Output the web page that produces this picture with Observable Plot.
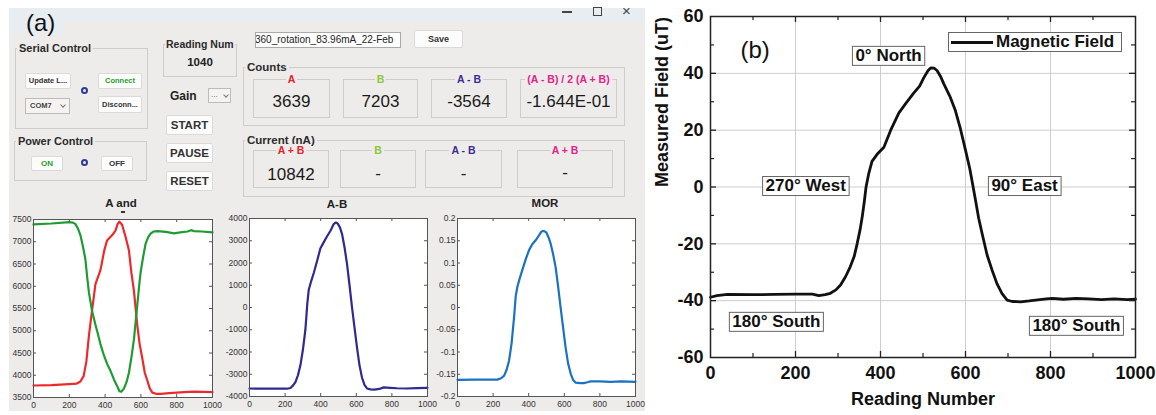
<!DOCTYPE html>
<html><head><meta charset="utf-8">
<script src="https://cdn.jsdelivr.net/npm/d3@7"></script>
<script src="https://cdn.jsdelivr.net/npm/@observablehq/plot@0.6"></script>
<style>
html,body{margin:0;padding:0;background:#fff;}
#root{position:relative;width:1156px;height:415px;overflow:hidden;font-family:"Liberation Sans",Arial,sans-serif;color:#222;}
.a{position:absolute;box-sizing:border-box;}
.grp{border:1px solid #cfccca;}
.gt{font-weight:bold;font-size:11px;line-height:12px;color:#2b2b2b;background:#eeecea;padding:0 2px;white-space:nowrap;}
.btn{background:#fcfcfc;border:1px solid #dcdad8;border-radius:2px;font-weight:bold;color:#333;text-align:center;white-space:nowrap;overflow:hidden;}
.vb{border:1px solid #cfccca;}
.vl{position:absolute;left:0;right:0;top:-7px;text-align:center;font-weight:bold;font-size:10.5px;line-height:12px;white-space:nowrap;}
.vl span{background:#eeecea;padding:0 2px;}
.vv{position:absolute;left:0;right:0;text-align:center;font-size:17px;color:#1a1a1a;line-height:20px;}
.radio{width:7px;height:7px;border:2px solid #2b3a9a;border-radius:50%;}
.chev{position:absolute;width:3px;height:3px;border-right:1px solid #777;border-bottom:1px solid #777;transform:rotate(45deg);}
.ptitle{font-weight:bold;font-size:11.5px;line-height:13px;text-align:center;width:80px;color:#222;}
</style></head>
<body><div id="root">
 <div class="a" style="left:9px;top:8px;width:636px;height:403px;background:#eeecea"></div>
 <div class="a" style="left:9px;top:8px;width:636px;height:13px;background:#e8edf1"></div>
 <div class="a" style="left:9px;top:8px;width:54px;height:26px;background:#e8edf1"></div>
 <div class="a" style="left:26px;top:10px;font-size:24px;line-height:26px;color:#111">(a)</div>
 <div class="a" style="left:562px;top:11px;width:10px;height:1.5px;background:#444"></div>
 <div class="a" style="left:593px;top:7px;width:9px;height:9px;border:1.5px solid #444"></div>
 <div class="a" style="left:622px;top:3px;font-size:15px;line-height:16px;color:#444">×</div>

 <!-- Serial Control -->
 <div class="a grp" style="left:15px;top:48px;width:133px;height:81px"></div>
 <div class="a gt" style="left:17px;top:42px">Serial Control</div>
 <div class="a btn" style="left:25px;top:73px;width:46px;height:16px;font-size:7.5px;line-height:14px">Update L...</div>
 <div class="a btn" style="left:98px;top:73px;width:44px;height:16px;font-size:7.5px;line-height:14px;color:#1f9e2a">Connect</div>
 <div class="a radio" style="left:81px;top:87px"></div>
 <div class="a" style="left:25px;top:98px;width:45px;height:16px;background:#f4f3f2;border:1px solid #bdbab8;font-size:7.5px;line-height:14px;padding-left:4px;font-weight:bold;color:#444">COM7<span class="chev" style="left:35px;top:4px"></span></div>
 <div class="a btn" style="left:98px;top:96px;width:44px;height:17px;font-size:7.5px;line-height:15px">Disconn...</div>

 <!-- Power Control -->
 <div class="a grp" style="left:14px;top:141px;width:133px;height:40px"></div>
 <div class="a gt" style="left:16px;top:135px">Power Control</div>
 <div class="a btn" style="left:31px;top:156px;width:32px;height:15px;font-size:8px;line-height:13px;color:#1f9e2a">ON</div>
 <div class="a radio" style="left:81px;top:159px"></div>
 <div class="a btn" style="left:101px;top:156px;width:32px;height:15px;font-size:8px;line-height:13px">OFF</div>

 <!-- Reading Num -->
 <div class="a grp" style="left:163px;top:44px;width:74px;height:33px"></div>
 <div class="a gt" style="left:165px;top:38px;font-size:10.5px;padding:0 1px">Reading Num</div>
 <div class="a" style="left:163px;top:55px;width:74px;text-align:center;font-size:11.5px;font-weight:bold;line-height:14px;color:#222">1040</div>

 <div class="a" style="left:170px;top:89px;font-size:12px;font-weight:bold;line-height:14px;color:#222">Gain</div>
 <div class="a" style="left:208px;top:88px;width:23px;height:15px;background:#f4f3f2;border:1px solid #bdbab8;font-size:8px;line-height:11px;padding-left:2px;color:#555">...<span class="chev" style="left:15px;top:4px"></span></div>
 <div class="a btn" style="left:166px;top:115px;width:47px;height:20px;font-size:11.5px;line-height:18px">START</div>
 <div class="a btn" style="left:166px;top:143px;width:47px;height:20px;font-size:11.5px;line-height:18px">PAUSE</div>
 <div class="a btn" style="left:166px;top:171px;width:47px;height:20px;font-size:11.5px;line-height:18px">RESET</div>

 <div class="a" style="left:255px;top:32px;width:146px;height:16px;background:#fff;border:1px solid #aaa;font-size:10px;line-height:14px;white-space:nowrap;overflow:hidden;text-indent:-1px;color:#222">360_rotation_83.96mA_22-Feb</div>
 <div class="a btn" style="left:414px;top:30px;width:49px;height:18px;font-size:9px;line-height:16px">Save</div>

 <!-- Counts -->
 <div class="a grp" style="left:243px;top:67px;width:382px;height:59px"></div>
 <div class="a gt" style="left:245px;top:61px;font-size:11.5px">Counts</div>
 <div class="a vb" style="left:253px;top:79px;width:77px;height:39px"><div class="vl" style="color:#e5222a"><span>A</span></div><div class="vv" style="top:12px">3639</div></div>
 <div class="a vb" style="left:343px;top:79px;width:75px;height:39px"><div class="vl" style="color:#8dc63f"><span>B</span></div><div class="vv" style="top:12px">7203</div></div>
 <div class="a vb" style="left:431px;top:79px;width:76px;height:39px"><div class="vl" style="color:#3a2d96"><span>A - B</span></div><div class="vv" style="top:12px">-3564</div></div>
 <div class="a vb" style="left:520px;top:79px;width:97px;height:39px"><div class="vl" style="color:#e2238c"><span>(A - B) / 2 (A + B)</span></div><div class="vv" style="top:12px">-1.644E-01</div></div>

 <!-- Current -->
 <div class="a grp" style="left:243px;top:140px;width:382px;height:57px"></div>
 <div class="a gt" style="left:245px;top:134px;font-size:11.5px">Current (nA)</div>
 <div class="a vb" style="left:253px;top:150px;width:76px;height:38px"><div class="vl" style="color:#e5222a"><span>A + B</span></div><div class="vv" style="top:14px">10842</div></div>
 <div class="a vb" style="left:340px;top:150px;width:76px;height:38px"><div class="vl" style="color:#8dc63f"><span>B</span></div><div class="vv" style="top:13px">-</div></div>
 <div class="a vb" style="left:425px;top:150px;width:77px;height:38px"><div class="vl" style="color:#3a2d96"><span>A - B</span></div><div class="vv" style="top:13px">-</div></div>
 <div class="a vb" style="left:517px;top:150px;width:96px;height:38px"><div class="vl" style="color:#e2238c"><span>A + B</span></div><div class="vv" style="top:12px">-</div></div>

 <!-- small plot titles -->
 <div class="a ptitle" style="left:81px;top:197px">A and</div>
 <div class="a" style="left:121px;top:211px;width:4px;height:1.5px;background:#333"></div>
 <div class="a ptitle" style="left:297px;top:198px">A-B</div>
 <div class="a ptitle" style="left:505px;top:197px">MOR</div>

 <div id="p1" class="a" style="left:0px;top:200px"></div>
 <div id="p2" class="a" style="left:215px;top:200px"></div>
 <div id="p3" class="a" style="left:420px;top:200px"></div>
 <div id="pb" class="a" style="left:650px;top:0px"></div>

 <div class="a" style="left:948px;top:32px;width:174px;height:20px;background:#fff;border:1px solid #666">
   <div class="a" style="left:2px;top:7.5px;width:42px;height:3px;background:#111"></div>
   <div class="a" style="left:47px;top:0px;font-size:17px;font-weight:bold;line-height:18px;color:#111;white-space:nowrap">Magnetic Field</div>
 </div>
</div>
<script>
const FONT = "'Liberation Sans', Arial, sans-serif";

// ---- panel (a) small plots data ----
const xTicksSmall = [0, 200, 400, 600, 800, 1000];

const readA = [0,100,200,240,262,280,295,310,327,346,374,395,411,440,458,470,480,495,515,533,547,561,579,593,607,622,636,650,664,690,710,760,841,900,1000];
const countsA = [3770,3780,3800,3810,3860,3980,4300,4900,5450,6050,6360,6800,7030,7150,7250,7400,7450,7380,7100,6810,6300,5900,5150,4700,4400,4050,3880,3700,3610,3580,3580,3600,3620,3630,3620];

const readB = [0,100,200,220,234,248,262,276,290,300,310,327,345,355,374,393,412,430,450,467,480,490,505,520,533,547,561,579,590,598,612,626,640,654,670,692,740,785,820,860,880,897,940,1000];
const countsB = [7390,7410,7440,7430,7400,7300,7150,6900,6600,6200,5850,5450,5150,5000,4700,4450,4250,4100,3900,3760,3640,3630,3700,3850,4050,4400,4800,5550,6000,6300,6650,6950,7100,7180,7230,7240,7220,7190,7210,7230,7260,7240,7230,7210];

const readDiff = [0,100,211,230,245,258,272,286,300,314,325,333,347,361,380,398,418,436,455,473,485,495,508,520,534,548,562,576,590,604,618,632,646,660,680,700,730,753,790,828,880,940,1000];
const countsDiff = [-3640,-3650,-3650,-3620,-3500,-3350,-3050,-2600,-1900,-1000,200,800,1200,1550,2100,2650,2950,3200,3450,3750,3820,3780,3600,3300,2700,1950,1000,0,-900,-1800,-2600,-3150,-3480,-3640,-3680,-3690,-3660,-3590,-3610,-3630,-3640,-3620,-3610];

const readMOR = [0,100,224,245,262,276,290,304,318,327,336,350,364,383,402,420,439,458,470,479,490,500,511,523,537,551,565,579,593,607,621,636,650,664,690,710,730,748,800,860,920,1000];
const valuesMOR = [-0.1625,-0.162,-0.162,-0.159,-0.153,-0.140,-0.119,-0.080,-0.021,0.025,0.046,0.066,0.084,0.108,0.129,0.142,0.151,0.162,0.170,0.172,0.171,0.168,0.158,0.144,0.120,0.091,0.048,0.001,-0.044,-0.089,-0.125,-0.149,-0.163,-0.169,-0.170,-0.170,-0.168,-0.166,-0.166,-0.167,-0.166,-0.167];

const yTicksAB = [3500,4000,4500,5000,5500,6000,6500,7000,7500];
const yTicksDiff = [-4000,-3000,-2000,-1000,0,1000,2000,3000,4000];
const yTicksMOR = [-0.2,-0.15,-0.1,-0.05,0,0.05,0.1,0.15,0.2];

// ---- panel (b) data ----
const readingNumber = [0,15,40,100,150,200,240,255,270,282,295,306,318,329,338,345,352,357,362,366,372,380,392,408,424,443,460,478,492,502,512,518,526,533,541,549,563,576,588,600,610,618,624,631,640,651,662,674,686,698,710,730,750,765,790,805,830,860,890,920,950,980,1000];
const magneticField = [-38.8,-38.2,-37.8,-37.9,-37.8,-37.7,-37.7,-38.2,-37.9,-37.4,-36.2,-34.5,-31.5,-28,-24.5,-20,-15,-10.5,-5,0,4.5,9,11.5,14,20,26,29.5,33,35.5,38.5,41,41.9,41.8,41,39,36.3,32,27,20.5,13,6.5,0,-5,-11,-17,-24,-29,-34,-37.5,-39.8,-40.3,-40.4,-40.1,-39.8,-39.4,-39.2,-39.5,-39.2,-39.4,-39.6,-39.4,-39.6,-39.5];
const xTicksB = [0,200,400,600,800,1000];
const xMinorB = [100,300,500,700,900];
const yTicksB = [-60,-40,-20,0,20,40,60];
const yMinorB = [-50,-30,-10,10,30,50];
const compassLabels = ["0° North","270° West","90° East","180° South","180° South"];
const compassReading = [419,224,739,155,861];
const compassField = [46.3,0.5,0.5,-47.3,-48.7];

const fmt = d => String(d);
const zip = (xs, ys) => xs.map((x, i) => ({x, y: ys[i]}));

function inwardTicks(xs, ys, iw, ih, len, stroke, sw) {
  return [
    Plot.ruleX(xs, {x: d => d, insetTop: ih - len, stroke, strokeWidth: sw}),
    Plot.ruleX(xs, {x: d => d, insetBottom: ih - len, stroke, strokeWidth: sw}),
    Plot.ruleY(ys, {y: d => d, insetRight: iw - len, stroke, strokeWidth: sw}),
    Plot.ruleY(ys, {y: d => d, insetLeft: iw - len, stroke, strokeWidth: sw})
  ];
}

function smallPlot({series, yDomain, yTicks, w, h, ml, mr, mt, mb}) {
  const iw = w - ml - mr, ih = h - mt - mb;
  return Plot.plot({
    width: w, height: h, marginLeft: ml, marginRight: mr, marginTop: mt, marginBottom: mb,
    style: {background: "transparent", fontFamily: FONT, color: "#333", overflow: "visible"},
    x: {domain: [0, 1000]}, y: {domain: yDomain},
    marks: [
      Plot.frame({fill: "white", stroke: null}),
      ...series.map(s => Plot.line(zip(s.x, s.y), {x: "x", y: "y", stroke: s.color, strokeWidth: 2.2, strokeLinejoin: "round"})),
      ...inwardTicks(xTicksSmall.slice(1, -1), yTicks.slice(1, -1), iw, ih, 3, "#555", 1),
      Plot.frame({stroke: "#555", strokeWidth: 1}),
      Plot.axisX(xTicksSmall, {tickSize: 0, tickPadding: 4, fontSize: 8.5, tickFormat: fmt, label: null}),
      Plot.axisY(yTicks, {tickSize: 0, tickPadding: 2, fontSize: 8.5, tickFormat: fmt, label: null})
    ]
  });
}

document.getElementById("p1").append(smallPlot({
  series: [{x: readA, y: countsA, color: "#ec2a2e"}, {x: readB, y: countsB, color: "#1e9b32"}],
  yDomain: [3500, 7500], yTicks: yTicksAB, w: 220, h: 215, ml: 33, mr: 8, mt: 19, mb: 18
}));
document.getElementById("p2").append(smallPlot({
  series: [{x: readDiff, y: countsDiff, color: "#2f2a92"}],
  yDomain: [-4000, 4000], yTicks: yTicksDiff, w: 220, h: 215, ml: 34, mr: 8, mt: 18, mb: 19
}));
document.getElementById("p3").append(smallPlot({
  series: [{x: readMOR, y: valuesMOR, color: "#1c72c2"}],
  yDomain: [-0.2, 0.2], yTicks: yTicksMOR, w: 225, h: 215, ml: 37, mr: 10, mt: 18, mb: 19
}));

// ---- panel (b) ----
const bW = 506, bH = 415, bML = 60, bMR = 21, bMT = 16, bMB = 58;
const biW = bW - bML - bMR, biH = bH - bMT - bMB;
const compass = compassLabels.map((t, i) => ({t, x: compassReading[i], y: compassField[i]}));
const plotB = Plot.plot({
  width: bW, height: bH, marginLeft: bML, marginRight: bMR, marginTop: bMT, marginBottom: bMB,
  style: {background: "white", fontFamily: FONT, color: "#111", overflow: "visible"},
  x: {domain: [0, 1000]}, y: {domain: [-60, 60]},
  marks: [
    Plot.gridX(xTicksB.slice(1, -1), {stroke: "#cdcdcd", strokeOpacity: 1, strokeWidth: 1}),
    Plot.gridY(yTicksB.slice(1, -1), {stroke: "#cdcdcd", strokeOpacity: 1, strokeWidth: 1}),
    Plot.line(zip(readingNumber, magneticField), {x: "x", y: "y", stroke: "#111", strokeWidth: 2.8, strokeLinejoin: "round"}),
    ...inwardTicks(xTicksB.slice(1, -1), yTicksB.slice(1, -1), biW, biH, 6, "#222", 1.3),
    ...inwardTicks(xMinorB, yMinorB, biW, biH, 4, "#222", 1.2),
    Plot.frame({stroke: "#222", strokeWidth: 1.5}),
    Plot.axisX(xTicksB, {tickSize: 0, tickPadding: 9, fontSize: 18, fontWeight: "bold", tickFormat: fmt, label: null}),
    Plot.axisY(yTicksB, {tickSize: 0, tickPadding: 7, fontSize: 18, fontWeight: "bold", tickFormat: fmt, label: null}),
    Plot.text(["Reading Number"], {text: d => d, frameAnchor: "bottom", dy: 47, fontSize: 18, fontWeight: "bold"}),
    Plot.text(["Measured Field (uT)"], {text: d => d, frameAnchor: "left", rotate: -90, dx: -48, fontSize: 18, fontWeight: "bold"}),
    Plot.text(["(b)"], {text: d => d, frameAnchor: "top-left", dx: 30, dy: 24, fontSize: 24}),
    Plot.text(compass, {x: "x", y: "y", text: "t", fontSize: 17, fontWeight: "bold", fill: "#111"})
  ]
});
document.getElementById("pb").append(plotB);

// boxes behind compass labels
const labelSet = new Set(compassLabels);
plotB.querySelectorAll("text").forEach(t => {
  if (!labelSet.has(t.textContent)) return;
  const bb = t.getBBox();
  const r = document.createElementNS("http://www.w3.org/2000/svg", "rect");
  r.setAttribute("x", bb.x - 3);
  r.setAttribute("y", bb.y + 0.5);
  r.setAttribute("width", bb.width + 6);
  r.setAttribute("height", bb.height);
  r.setAttribute("fill", "white");
  r.setAttribute("stroke", "#666");
  r.setAttribute("stroke-width", "1");
  const tr = t.getAttribute("transform");
  if (tr) r.setAttribute("transform", tr);
  t.parentNode.insertBefore(r, t);
});
</script>
</body></html>
